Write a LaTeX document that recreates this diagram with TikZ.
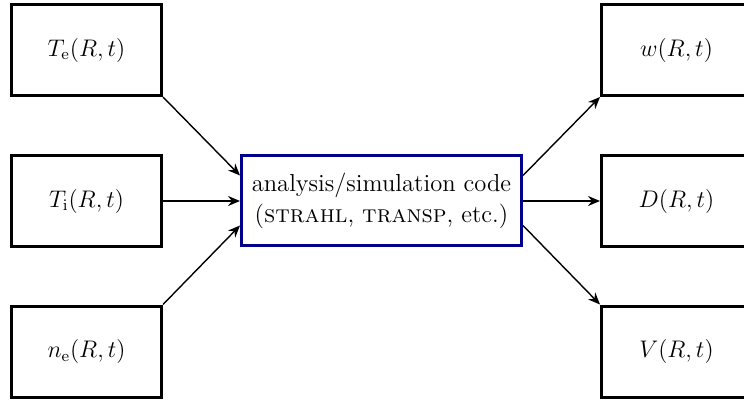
\documentclass[tikz,border=0pt]{standalone}
\usetikzlibrary{arrows.meta,calc}
\definecolor{codeblue}{RGB}{0,0,140}
\begin{document}
\begin{tikzpicture}[x=0.5pt,y=-0.5pt,
  varbox/.style={draw=black,line width=1.5pt,minimum width=75pt,minimum height=45.5pt,inner sep=0pt,
    font=\fontsize{11.6}{15.5}\selectfont},
  codebox/.style={draw=codeblue,line width=1.5pt,fill=white,minimum width=140pt,minimum height=45pt,inner sep=0pt,
    align=center,font=\fontsize{12.3}{15.5}\selectfont},
  conn/.style={line width=0.7pt,-{Stealth[length=6pt,width=5pt,inset=2pt]}}]
\useasboundingbox (0,0) rectangle (744,402);
\node[varbox] (Te) at (86.5,50) {$T_{\mathrm{e}}(R,t)$};
\node[varbox] (Ti) at (86.5,201) {$T_{\mathrm{i}}(R,t)$};
\node[varbox] (ne) at (86.5,351.5) {$n_{\mathrm{e}}(R,t)$};
\node[codebox] (code) at (381.5,200.5) {analysis/simulation code\\(\textsc{strahl}, \textsc{transp}, etc.)};
\node[varbox] (w) at (676.5,50) {$w(R,t)$};
\node[varbox] (D) at (676.5,201) {$D(R,t)$};
\node[varbox] (V) at (676.5,351.5) {$V(R,t)$};
\draw[conn] (Te.south east) -- ($(code.west)+(0,-25)$);
\draw[conn] (Ti.east) -- (Ti.east -| code.west);
\draw[conn] (ne.north east) -- ($(code.west)+(0,25)$);
\draw[conn] ($(code.east)+(0,-25)$) -- (w.south west);
\draw[conn] (D.west -| code.east) -- (D.west);
\draw[conn] ($(code.east)+(0,25)$) -- (V.north west);
\end{tikzpicture}
\end{document}
